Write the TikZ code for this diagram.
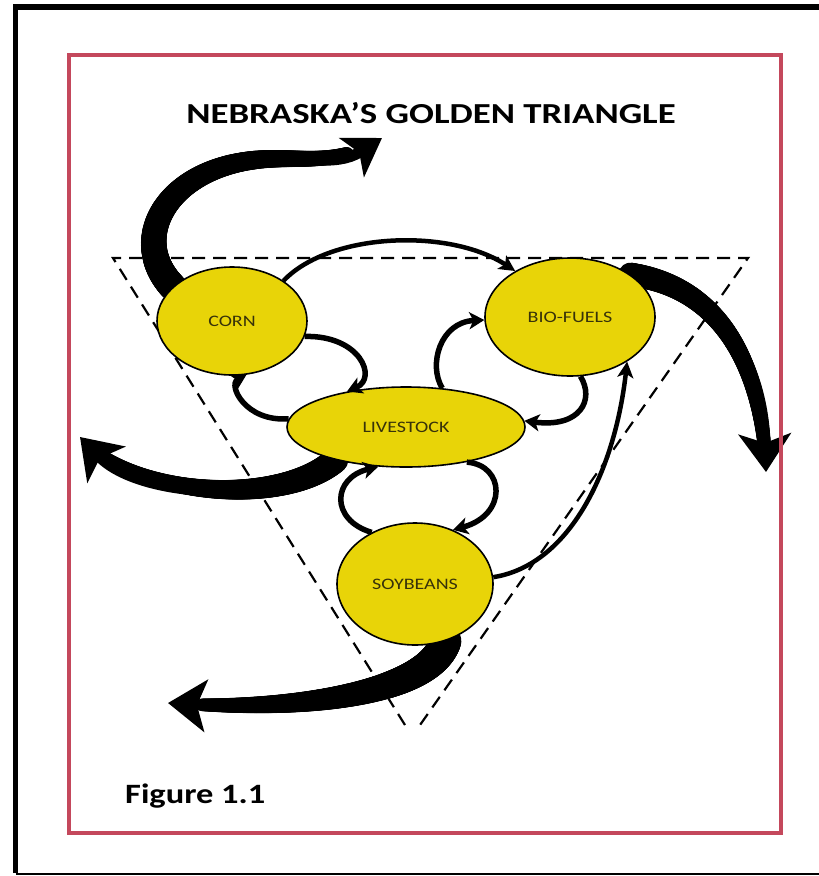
\documentclass[tikz,border=0pt]{standalone}
\usepackage{fontspec}
\setmainfont{Carlito}
\usetikzlibrary{arrows.meta,shapes.geometric,decorations.markings}
\pgfdeclarelayer{back}
\pgfsetlayers{back,main}
\definecolor{nyellow}{RGB}{232,212,8}
\definecolor{nred}{RGB}{196,72,92}
\definecolor{ntext}{RGB}{55,50,10}
\begin{document}
\begin{tikzpicture}[x=1pt,y=-1pt,
  crop/.style={ellipse,draw=black,line width=1.6pt,fill=nyellow,inner sep=0pt,text=ntext},
  smallarrow/.style={line width=5.5pt,-{Stealth[length=15pt,width=17pt,inset=4pt]}},
  bigarrow/.style={line width=#1,-{Stealth[length=38pt,width=52pt,inset=9pt]}},
  taper/.style n args={2}{postaction={decorate,decoration={markings,
     mark=between positions 0 and 0.88 step 1pt with {
       \pgfmathsetmacro\rr{#1-(#1-#2)*\pgfkeysvalueof{/pgf/decoration/mark info/distance from start}/\pgfdecoratedpathlength}
       \fill (0,0) circle (\rr pt);}}}},
  midarrow/.style={line width=4.5pt,-{Stealth[length=16pt,width=16pt,inset=4pt]}},
  tri/.style={line width=2.2pt,dash pattern=on 13pt off 8pt}]
\useasboundingbox (0,0) rectangle (819,876);
\begin{pgfonlayer}{back}
\fill[white] (0,0) rectangle (819,876);
\end{pgfonlayer}
% frames
\draw[line width=5.5pt] (15.5,873) -- (15.5,7) -- (819,7);
\draw[line width=2pt] (15.5,874) -- (819,874);
\draw[nred,line width=4pt] (69,55) rectangle (781,833);
% title
\node (title) at (431,113) {\scalebox{1.27}[1]{\bfseries\fontsize{29}{29}\selectfont NEBRASKA’S GOLDEN TRIANGLE}};
\node[anchor=west,inner sep=0pt] (fig) at (125,796) {\scalebox{1.23}[1]{\bfseries\fontsize{28}{28}\selectfont Figure 1.1}};
% triangle
\coordinate (tl) at (113,258);
\coordinate (tr) at (748,258);
\coordinate (bl) at (405,725);
\coordinate (br) at (420,725);
\draw[tri] (bl) -- (tl) -- (tr) -- (br);
% nodes
\node[crop,minimum width=150pt,minimum height=108pt] (corn) at (232,321) {\scalebox{1.25}[1]{\fontsize{16}{16}\selectfont CORN}};
\node[crop,minimum width=170pt,minimum height=118pt] (bio) at (570,317) {\scalebox{1.25}[1]{\fontsize{16}{16}\selectfont BIO-FUELS}};
\node[crop,minimum width=238pt,minimum height=80pt] (live) at (406,427) {\scalebox{1.25}[1]{\fontsize{16}{16}\selectfont LIVESTOCK}};
\node[crop,minimum width=156pt,minimum height=122pt] (soy) at (415,584) {\scalebox{1.25}[1]{\fontsize{16}{16}\selectfont SOYBEANS}};
% free ends of big arrows
\coordinate (e1) at (382,138);
\coordinate (e2) at (766,472);
\coordinate (e3) at (80,437);
\coordinate (e4) at (168,703);
% big arrows (behind the nodes)
\begin{pgfonlayer}{back}
\draw[bigarrow=11pt,taper={14}{6},-{Stealth[length=36pt,width=46pt,inset=9pt]}] (corn.150) .. controls (128,240) and (165,170) .. (255,160) .. controls (300,155) and (335,168) .. (e1);
\draw[bigarrow=11pt,taper={12}{6}] (bio.35) .. controls (710,285) and (762,350) .. (e2);
\draw[bigarrow=10pt,taper={13}{5}] (live.205) .. controls (285,505) and (140,500) .. (e3);
\draw[bigarrow=10pt,taper={16}{5}] (soy.-62) .. controls (430,695) and (290,712) .. (e4);
\end{pgfonlayer}
% corn -> bio
\draw[midarrow] (corn.38) .. controls (330,232) and (450,228) .. (bio.140);
% soy -> bio
\draw[midarrow] (soy.5) .. controls (570,565) and (615,470) .. (bio.-38);
% loops
\draw[smallarrow] (corn.-12) .. controls (360,335) and (378,378) .. (live.149);
\draw[smallarrow] (live.176) .. controls (245,422) and (228,385) .. (corn.-75);
\draw[smallarrow] (live.47) .. controls (428,365) and (440,322) .. (bio.182);
\draw[smallarrow] (bio.-80) .. controls (595,400) and (580,428) .. (live.3);
\draw[smallarrow] (soy.130) .. controls (330,520) and (332,478) .. (live.235);
\draw[smallarrow] (live.-30) .. controls (505,465) and (508,515) .. (soy.55);
\end{tikzpicture}
\end{document}
